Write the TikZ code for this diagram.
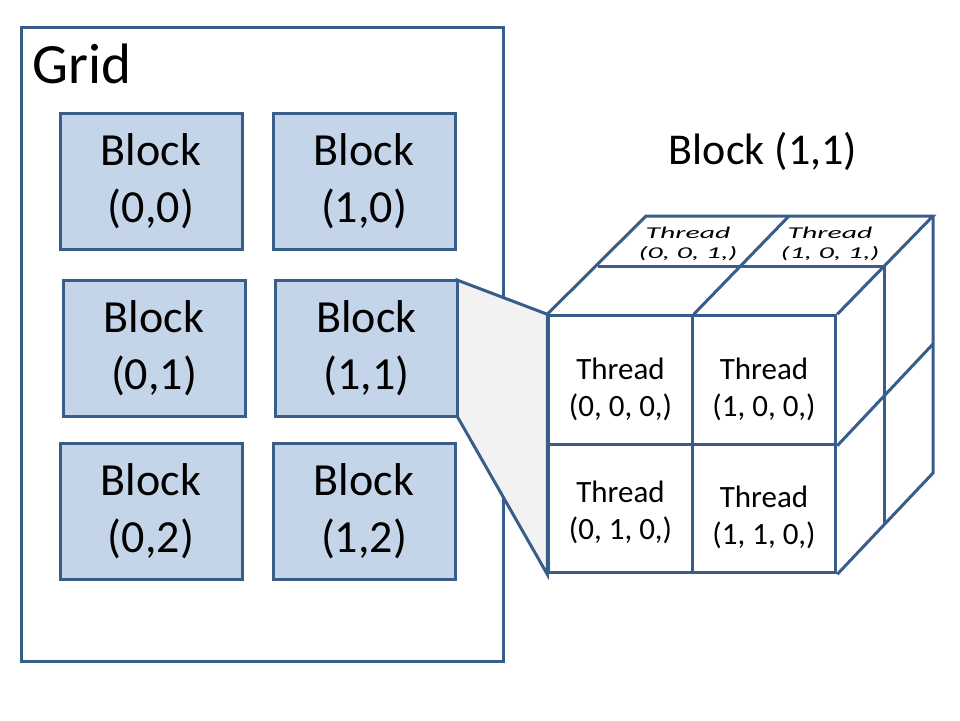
\documentclass[tikz,border=0pt]{standalone}
\usepackage{fontspec}
\setmainfont{Carlito}
\definecolor{edge}{RGB}{56,93,138}
\definecolor{blkfill}{RGB}{197,213,233}
\definecolor{trapfill}{RGB}{242,242,242}
\begin{document}
\begin{tikzpicture}[x=1pt,y=-1pt,line width=3pt,line join=miter,
  blk/.style={draw=edge,fill=blkfill,minimum width=182pt,minimum height=136pt,inner sep=0pt,align=center,font=\fontsize{46}{57}\selectfont},
  cell/.style={draw=edge,minimum width=143.5pt,minimum height=128.5pt,inner sep=0pt},
  thr/.style={align=center,inner sep=0pt,font=\fontsize{31}{37}\selectfont},
  topthr/.style={align=center,inner sep=0pt,transform shape,font=\itshape\fontsize{16.5}{20}\selectfont},
  cube/.style={draw=edge}]
\useasboundingbox (0,0) rectangle (960,720);
% grid frame
\node[draw=edge,minimum width=482pt,minimum height=634pt,inner sep=0pt] (grid) at (262,344) {};
\node[anchor=base west,inner sep=0pt,font=\fontsize{57}{60}\selectfont] (gridlbl) at (31,83) {Grid};
% cube front cells (positions)
\node[cell] (c000) at (620.5,380) {};
\node[cell] (c100) at (764,380) {};
\node[cell] (c010) at (620.5,508.5) {};
\node[cell] (c110) at (764,508.5) {};
% blocks
\node[blk] (b00) at (151,181) {Block\\(0,0)};
\node[blk] (b10) at (364,181) {Block\\(1,0)};
\node[blk] (b01) at (154,348) {Block\\(0,1)};
\node[blk] (b02) at (151,511.5) {Block\\(0,2)};
\node[blk] (b12) at (364,511.5) {Block\\(1,2)};
% zoom trapezoid
\filldraw[draw=edge,fill=trapfill] (457,280) coordinate (bne) -- (c000.north west) -- (c010.south west) -- (457,416) coordinate (bse) -- cycle;
\node[blk] (b11) at (366.5,348) {Block\\(1,1)};
% redraw cells on top
\node[cell] (c000b) at (620.5,380) {};
\node[cell] (c100b) at (764,380) {};
\node[cell] (c010b) at (620.5,508.5) {};
\node[cell] (c110b) at (764,508.5) {};
% cube top and right faces
\coordinate (btl) at (646,216);
\coordinate (btr) at (933,216);
\coordinate (bbr) at (933,473);
\coordinate (btm) at (789,216);
\coordinate (mtl) at (597.5,266);
\coordinate (mtr) at (884.5,266);
\coordinate (mbr) at (884.5,524.5);
\coordinate (rmid) at (933,344);
\draw[cube] (c000.north west) -- (btl) -- (btr) -- (c100.north east);
\draw[cube] (btr) -- (bbr) -- (c110.south east);
\draw[cube] (mtl) -- (mtr) -- (mbr);
\draw[cube] (c000.north east) -- (btm);
\draw[cube] (c100.south east) -- (rmid);
% front thread labels
\node[thr] (t000) at (620.5,389) {Thread\\(0, 0, 0,)};
\node[thr] (t100) at (764,389) {Thread\\(1, 0, 0,)};
\node[thr] (t010) at (620.5,512) {Thread\\(0, 1, 0,)};
\node[thr] (t110) at (764,517) {Thread\\(1, 1, 0,)};
% top thread labels
\begin{scope}[shift={(688,244)},xscale=1.8]
\node[topthr] (t001) at (0,0) {Thread\\(0, 0, 1,)};
\end{scope}
\begin{scope}[shift={(830,244)},xscale=1.8]
\node[topthr] (t101) at (0,0) {Thread\\(1, 0, 1,)};
\end{scope}
% title
\node[anchor=base,inner sep=0pt,font=\fontsize{44}{50}\selectfont] (title) at (763,164) {Block (1,1)};
\end{tikzpicture}
\end{document}
